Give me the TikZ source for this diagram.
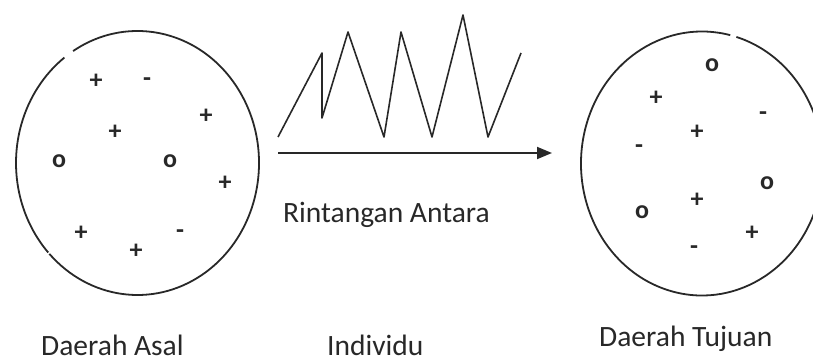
\documentclass[tikz,border=0pt]{standalone}
\usepackage{fontspec}
\setmainfont{Carlito}
\usetikzlibrary{arrows.meta}
\definecolor{ink}{HTML}{282828}
\tikzset{
  region/.style={draw=ink, line width=1.8pt},
  txt/.style={font=\fontsize{29.5}{34}\selectfont, text=ink, anchor=base west, inner sep=0pt},
  sym/.style={font=\bfseries\fontsize{26}{30}\selectfont, text=ink, anchor=mid, inner sep=0pt},
  plussym/.style={sym, yshift=-2.4pt},
}
\begin{document}
\begin{tikzpicture}[x=1pt,y=-1pt]
\useasboundingbox (0,0) rectangle (813,363);
\clip (0,0) rectangle (813,363);

% origin region (drawn as two arcs with small breaks)
\draw[region] (137.5,163) ++(238:121.5 and 132)
  arc[start angle=238, end angle=496.5, x radius=121.5, y radius=132];
\draw[region] (137.5,163) ++(137.3:121.5 and 132)
  arc[start angle=137.3, end angle=233, x radius=121.5, y radius=132];

% destination region
\draw[region] (702,163.5) ++(286.5:121 and 132)
  arc[start angle=286.5, end angle=643.5, x radius=121, y radius=132];

% barrier zigzag
\draw[ink, line width=1.6pt, line join=round]
  (278,137) -- (322,53) -- (322,118) -- (348,32) -- (384,137) -- (401,32)
  -- (432,137) -- (463,15) -- (488,137) -- (521,53);

% movement arrow
\coordinate (arrS) at (278,153);
\coordinate (arrE) at (552,153);
\draw[ink, line width=1.8pt, -{Triangle[length=15pt,width=12pt]}] (arrS) -- (arrE);

% labels
\node[txt] (rint) at (283,223) {Rintangan Antara};
\node[txt] (asal) at (41,355) {Daerah Asal};
\node[txt] (indiv) at (327,355) {Individu};
\node[txt] (tujuan) at (599,346) {Daerah Tujuan};

% particles in the origin region
\foreach \x/\y [count=\i] in {96/84, 206/119, 115/135, 225/186, 81/236, 136/254}
  \node[plussym] (ap\i) at (\x,\y) {+};
\foreach \x/\y [count=\i] in {147/84, 180/236}
  \node[sym] (am\i) at (\x,\y) {-};
\foreach \x/\y [count=\i] in {59/165, 170/165}
  \node[sym] (ao\i) at (\x,\y) {o};

% particles in the destination region
\foreach \x/\y [count=\i] in {656/101, 697/135, 697/203, 752/236}
  \node[plussym] (bp\i) at (\x,\y) {+};
\foreach \x/\y [count=\i] in {763/118, 639/151, 694/252}
  \node[sym] (bm\i) at (\x,\y) {-};
\foreach \x/\y [count=\i] in {712/69, 767/187, 642/216}
  \node[sym] (bo\i) at (\x,\y) {o};
\end{tikzpicture}
\end{document}
